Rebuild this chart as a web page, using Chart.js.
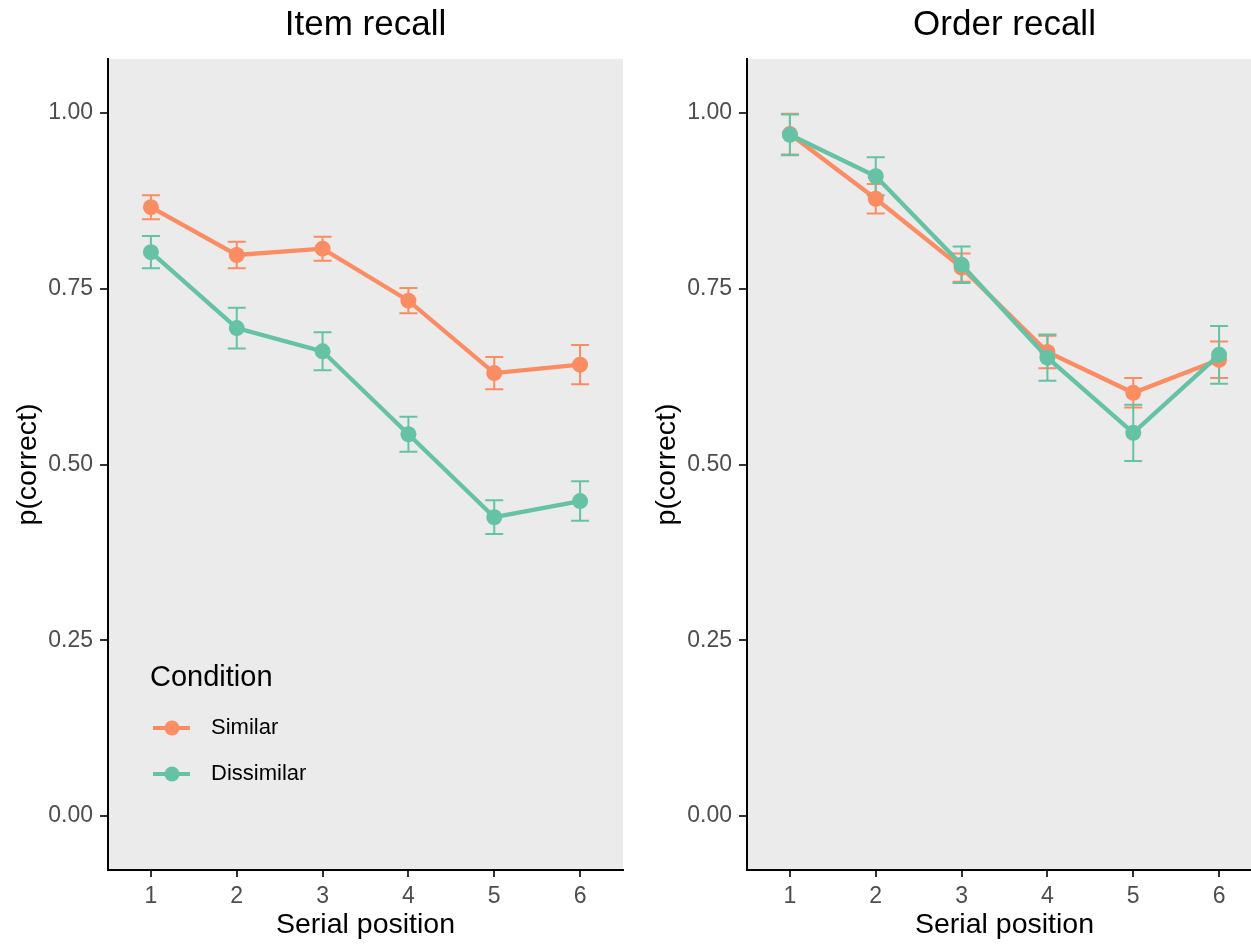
<!DOCTYPE html>
<html>
<head>
<meta charset="utf-8">
<script src="https://cdn.jsdelivr.net/npm/chart.js@4.4.1/dist/chart.umd.min.js"></script>
<style>
  html, body { margin: 0; padding: 0; background: #fff; overflow: hidden; width: 1251px; height: 944px; }
  canvas { position: absolute; top: 0; }
  #itemChart { left: 0; }
  #orderChart { left: 639px; }
</style>
</head>
<body>
<canvas id="itemChart" width="640" height="944"></canvas>
<canvas id="orderChart" width="640" height="944"></canvas>
<script>
// serial positions and y tick values
const positions = [1, 2, 3, 4, 5, 6];
const yTicks = [0, 0.25, 0.5, 0.75, 1];

// item recall panel
const itemSimilar = [0.866, 0.798, 0.807, 0.733, 0.630, 0.642];
const itemSimilarErr = [0.017, 0.019, 0.017, 0.018, 0.023, 0.028];
const itemDissimilar = [0.802, 0.694, 0.661, 0.543, 0.425, 0.448];
const itemDissimilarErr = [0.023, 0.029, 0.027, 0.025, 0.024, 0.028];

// order recall panel
const orderSimilar = [0.970, 0.878, 0.780, 0.660, 0.602, 0.649];
const orderSimilarErr = [0.029, 0.021, 0.020, 0.023, 0.021, 0.026];
const orderDissimilar = [0.969, 0.910, 0.784, 0.652, 0.545, 0.656];
const orderDissimilarErr = [0.029, 0.027, 0.026, 0.033, 0.040, 0.041];

const ORANGE = "#FC8D62";
const TEAL = "#66C2A5";
const FONT = "'Liberation Sans', Arial, sans-serif";

// grey panel behind the data
const panelBg = {
  id: "panelBg",
  beforeDraw(chart) {
    const { ctx, chartArea: a } = chart;
    ctx.save();
    ctx.fillStyle = "#EBEBEB";
    ctx.fillRect(a.left, a.top, a.right - a.left, a.bottom - a.top);
    ctx.restore();
  },
};

// vertical error bars with caps, drawn under the points
const errorBars = {
  id: "errorBars",
  beforeDatasetsDraw(chart) {
    const { ctx, scales } = chart;
    ctx.save();
    ctx.lineWidth = 2;
    chart.data.datasets.forEach((ds) => {
      ctx.strokeStyle = ds.borderColor;
      ds.data.forEach((pt, i) => {
        const e = ds.errors[i];
        const x = scales.x.getPixelForValue(pt.x);
        const y1 = scales.y.getPixelForValue(pt.y + e);
        const y2 = scales.y.getPixelForValue(pt.y - e);
        ctx.beginPath();
        ctx.moveTo(x, y1);
        ctx.lineTo(x, y2);
        ctx.moveTo(x - 9, y1);
        ctx.lineTo(x + 9, y1);
        ctx.moveTo(x - 9, y2);
        ctx.lineTo(x + 9, y2);
        ctx.stroke();
      });
    });
    ctx.restore();
  },
};

// legend inside the bottom-left of the panel
const condLegend = {
  id: "condLegend",
  afterDraw(chart, args, opts) {
    if (!opts.show) return;
    const { ctx, chartArea: a } = chart;
    ctx.save();
    ctx.textBaseline = "middle";
    ctx.textAlign = "left";
    ctx.fillStyle = "#000";
    ctx.font = "29px " + FONT;
    ctx.fillText("Condition", a.left + 42, a.bottom - 192);
    const rows = [a.bottom - 142, a.bottom - 96];
    chart.data.datasets.forEach((ds, i) => {
      const y = rows[i];
      ctx.strokeStyle = ds.borderColor;
      ctx.lineWidth = 4;
      ctx.beginPath();
      ctx.moveTo(a.left + 45, y);
      ctx.lineTo(a.left + 82, y);
      ctx.stroke();
      ctx.fillStyle = ds.borderColor;
      ctx.beginPath();
      ctx.arc(a.left + 64, y, 7.5, 0, Math.PI * 2);
      ctx.fill();
      ctx.fillStyle = "#000";
      ctx.font = "22px " + FONT;
      ctx.fillText(ds.label, a.left + 103, y);
    });
    ctx.restore();
  },
};

function series(label, values, errs, color, order) {
  return {
    label: label,
    data: positions.map((p, i) => ({ x: p, y: values[i] })),
    errors: errs,
    borderColor: color,
    backgroundColor: color,
    borderWidth: 4.3,
    pointRadius: 8,
    pointBorderWidth: 0,
    pointBackgroundColor: color,
    order: order,
  };
}

function buildChart(id, title, sim, simErr, dis, disErr, showLegend) {
  return new Chart(document.getElementById(id).getContext("2d"), {
    type: "line",
    data: {
      datasets: [
        series("Similar", sim, simErr, ORANGE, 1),
        series("Dissimilar", dis, disErr, TEAL, 0),
      ],
    },
    options: {
      responsive: false,
      animation: false,
      devicePixelRatio: 1,
      events: [],
      layout: { padding: { left: 0, right: 17, top: 0, bottom: 0 } },
      plugins: {
        legend: { display: false },
        tooltip: { enabled: false },
        title: {
          display: true,
          text: title,
          fullSize: false,
          color: "#000",
          font: { family: FONT, size: 35, weight: "normal" },
          padding: { top: 4, bottom: 13 },
        },
        condLegend: { show: showLegend },
      },
      scales: {
        x: {
          type: "linear",
          min: 0.5,
          max: 6.5,
          afterBuildTicks: (s) => { s.ticks = positions.map((v) => ({ value: v })); },
          afterFit: (s) => { s.height = 74; },
          ticks: { color: "#4D4D4D", font: { family: FONT, size: 23 }, padding: 6, callback: (v) => String(v) },
          grid: { display: true, drawOnChartArea: false, tickLength: 7, color: "#333", lineWidth: 2 },
          border: { display: true, color: "#000", width: 2 },
          title: { display: true, text: "Serial position", color: "#000", font: { family: FONT, size: 28.5 }, padding: { top: 0, bottom: 2 } },
        },
        y: {
          min: -0.0768,
          max: 1.0768,
          afterBuildTicks: (s) => { s.ticks = yTicks.map((v) => ({ value: v })); },
          afterFit: (s) => { s.width = 108; },
          ticks: { color: "#4D4D4D", font: { family: FONT, size: 23 }, padding: 7, callback: (v) => v.toFixed(2) },
          grid: { display: true, drawOnChartArea: false, tickLength: 8, color: "#333", lineWidth: 2 },
          border: { display: true, color: "#000", width: 2 },
          title: { display: true, text: "p(correct)", color: "#000", font: { family: FONT, size: 28.5 }, padding: { top: 11, bottom: 0 } },
        },
      },
    },
    plugins: [panelBg, errorBars, condLegend],
  });
}

buildChart("itemChart", "Item recall", itemSimilar, itemSimilarErr, itemDissimilar, itemDissimilarErr, true);
buildChart("orderChart", "Order recall", orderSimilar, orderSimilarErr, orderDissimilar, orderDissimilarErr, false);
</script>
</body>
</html>
